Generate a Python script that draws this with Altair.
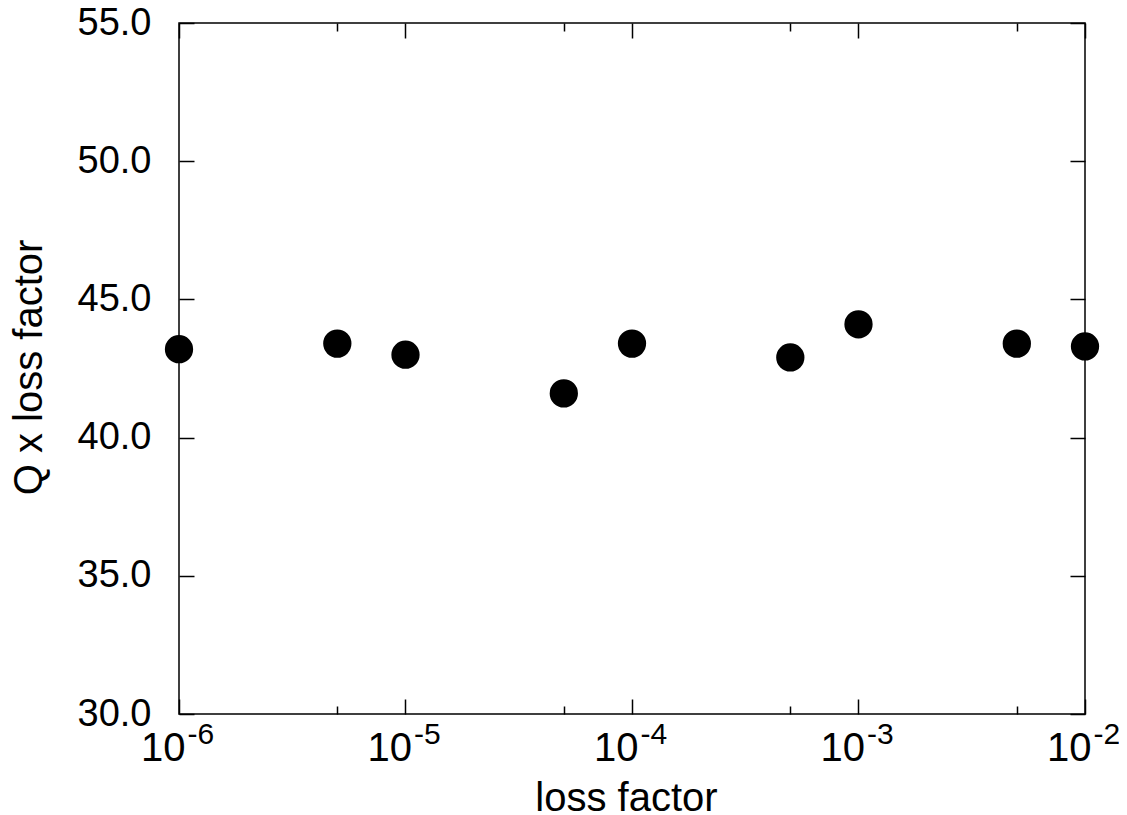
import altair as alt
import pandas as pd

# data
loss = [1e-6, 5e-6, 1e-5, 5e-5, 1e-4, 5e-4, 1e-3, 5e-3, 1e-2]
qx = [43.2, 43.4, 43.0, 41.6, 43.4, 42.9, 44.1, 43.4, 43.3]
x_major = [1e-6, 1e-5, 1e-4, 1e-3, 1e-2]
x_minor = [5e-6, 5e-5, 5e-4, 5e-3]
y_major = [30, 35, 40, 45, 50, 55]

df = pd.DataFrame({"loss": loss, "qx": qx})
FONT = "Liberation Sans"
W, H = 906, 691
MAJ, MIN = 15, 8

xs = alt.Scale(type="log", domain=[1e-6, 1e-2], nice=False)
ys = alt.Scale(domain=[30, 55], nice=False, zero=False)


def xenc(axis):
    return alt.X("loss:Q", scale=xs, axis=axis)


def yenc(axis):
    return alt.Y("qx:Q", scale=ys, axis=axis)


def tick_axis(orient, values, length):
    return alt.Axis(orient=orient, values=values, offset=-length, tickSize=length,
                    ticks=True, tickColor="black", tickWidth=1.5, labels=False,
                    domain=False, grid=False, title=None)


base = alt.Chart(df)

# visible points + base labels ("10") + titles
x_lab = alt.Axis(orient="bottom", values=x_major, labelExpr="'10'", ticks=False, tickSize=0,
                 domain=False, grid=False, labelFontSize=40, labelAlign="right", labelOffset=6,
                 labelBaseline="alphabetic", labelPadding=46, labelFlush=False,
                 labelOverlap=False, labelBound=False,
                 title="loss factor", titleFontSize=40, titleX=447, titleY=96,
                 titleBaseline="alphabetic", titleAlign="center")
y_lab = alt.Axis(orient="left", values=y_major, format=".1f", ticks=False, tickSize=0,
                 domain=False, grid=False, labelFontSize=38, labelPadding=28,
                 labelFlush=False, labelOverlap=False,
                 title="Q x loss factor", titleFontSize=40, titleAngle=270,
                 titleX=-150, titleY=344, titleAlign="center", titleBaseline="middle")
points = base.mark_circle(size=800, color="black", opacity=1).encode(
    x=xenc(x_lab), y=yenc(y_lab))

# exponent labels
x_exp = alt.Axis(orient="bottom", values=x_major,
                 labelExpr="'-' + round(-log(datum.value)/LN10)", ticks=False, tickSize=0,
                 domain=False, grid=False, labelFontSize=30, labelAlign="left", labelOffset=8,
                 labelBaseline="alphabetic", labelPadding=29, labelFlush=False,
                 labelOverlap=False, labelBound=False, title=None)
exp_layer = base.mark_circle(opacity=0).encode(x=xenc(x_exp), y=yenc(None))

layers = [points, exp_layer]
for orient, vals, ln in [("bottom", x_major, MAJ), ("bottom", x_minor, MIN),
                         ("top", x_major, MAJ), ("top", x_minor, MIN)]:
    layers.append(base.mark_circle(opacity=0).encode(
        x=xenc(tick_axis(orient, vals, ln)), y=yenc(None)))
for orient in ["left", "right"]:
    layers.append(base.mark_circle(opacity=0).encode(
        x=xenc(None), y=yenc(tick_axis(orient, y_major, MAJ))))

chart = alt.layer(*layers).resolve_axis(
    x="independent", y="independent"
).properties(
    width=W, height=H,
    autosize=alt.AutoSizeParams(type="none"),
    padding={"left": 171, "top": 15, "right": 34, "bottom": 100},
).configure_view(
    stroke="black", strokeWidth=1.5
).configure_axis(
    labelFont=FONT, titleFont=FONT, labelColor="black", titleColor="black",
    titleFontWeight="normal"
)

chart.save("out.html", embed_options={"renderer": "svg", "actions": False})
